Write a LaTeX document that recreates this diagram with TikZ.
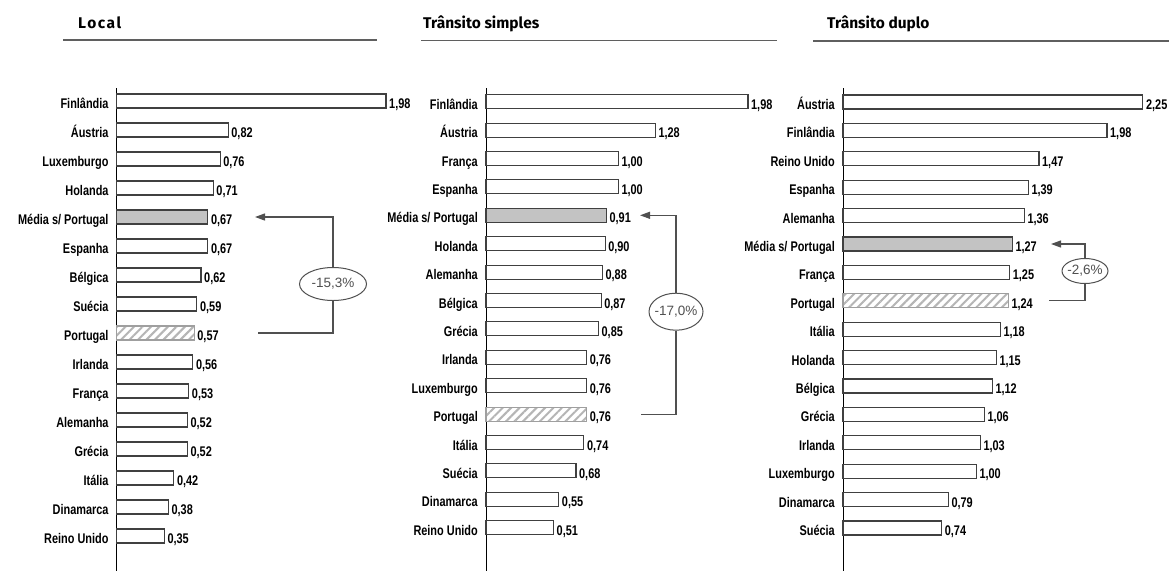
\documentclass[tikz,border=0pt]{standalone}
\usepackage{fontspec}
\usetikzlibrary{calc,shapes.geometric,arrows.meta,patterns.meta}
\newfontfamily\lblfont[FakeStretch=0.78]{Liberation Sans}
\newfontfamily\hdrfont{Fira Sans}
\newfontfamily\hdrfontsp[LetterSpace=10]{Fira Sans}
\newfontfamily\pctfont{Liberation Sans}
\definecolor{barline}{HTML}{404040}
\definecolor{mediafill}{HTML}{C3C3C3}
\definecolor{hatchc}{HTML}{B5B5B5}
\definecolor{connc}{HTML}{505050}
\definecolor{rulec}{HTML}{5F5F5F}
\tikzset{
 barbase/.style={draw=barline, line width=1.1pt, minimum height=14pt, inner sep=0pt, outer sep=0pt, anchor=west},
 barn/.style={fill=white},
 barm/.style={fill=mediafill},
 barp/.style={draw=gray!75, pattern={Lines[angle=45,distance=6pt,line width=2pt]}, pattern color=hatchc},
 lbl/.style={font=\lblfont\bfseries\fontsize{14}{16}\selectfont, inner sep=0pt, anchor=base east},
 val/.style={font=\lblfont\bfseries\fontsize{14}{16}\selectfont, inner sep=0pt, anchor=base west},
 hdr/.style={font=\hdrfont\bfseries\fontsize{15.5}{18}\selectfont, inner sep=0pt, anchor=base west},
 pct/.style={ellipse, draw=connc, line width=1pt, inner sep=0pt},
 pcttext/.style={font=\pctfont\fontsize{13.5}{15}\selectfont, text=connc, inner sep=0pt},
 link/.style={draw=connc, line width=1.2pt},
 axisline/.style={draw=black, line width=1pt},
 hrule/.style={draw=rulec, line width=1.6pt},
}
\newcommand\drawpanel[6]{%
 \foreach \nm/\ip/\fp/\ty [count=\idx from 0] in {#6} {
   \pgfmathsetmacro\yy{#4+#5*\idx}
   \pgfmathsetmacro\ww{\ip.\fp*#3}
   \node[barbase, bar\ty, minimum width=\ww pt] (b#1-\idx) at (#2,\yy) {};
   \node[lbl] (l#1-\idx) at ($(#2,\yy)+(-8,7.5)$) {\nm};
   \node[val] (v#1-\idx) at ($(b#1-\idx.east)+(3,7.5)$) {\ip,\fp};
 }}
\begin{document}
\begin{tikzpicture}[x=1pt,y=-1pt]
\useasboundingbox[fill=white] (0,0) rectangle (1169,571);
% headers
\node[hdr, font=\hdrfontsp\bfseries\fontsize{15.5}{18}\selectfont] (h1) at (78,28) {Local};
\node[hdr] (h2) at (423,28) {Trânsito simples};
\node[hdr] (h3) at (827,28) {Trânsito duplo};
\draw[hrule] (63,40) -- (377,40);
\draw[hrule] (421,40.5) -- (777,40.5);
\draw[hrule] (813,41) -- (1169,41);
% axes
\draw[axisline] (116.7,88) -- (116.7,571);
\draw[axisline] (486,88) -- (486,571);
\draw[axisline] (843,88) -- (843,571);
% panel 1
\drawpanel{1}{116.7}{136}{101}{29}{Finlândia/1/98/n, Áustria/0/82/n, Luxemburgo/0/76/n, Holanda/0/71/n, {Média s/ Portugal}/0/67/m, Espanha/0/67/n, Bélgica/0/62/n, Suécia/0/59/n, Portugal/0/57/p, Irlanda/0/56/n, França/0/53/n, Alemanha/0/52/n, Grécia/0/52/n, Itália/0/42/n, Dinamarca/0/38/n, Reino Unido/0/35/n}
% panel 2
\drawpanel{2}{486}{132.3}{101.7}{28.4}{Finlândia/1/98/n, Áustria/1/28/n, França/1/00/n, Espanha/1/00/n, {Média s/ Portugal}/0/91/m, Holanda/0/90/n, Alemanha/0/88/n, Bélgica/0/87/n, Grécia/0/85/n, Irlanda/0/76/n, Luxemburgo/0/76/n, Portugal/0/76/p, Itália/0/74/n, Suécia/0/68/n, Dinamarca/0/55/n, Reino Unido/0/51/n}
% panel 3
\drawpanel{3}{843}{133.3}{102}{28.4}{Áustria/2/25/n, Finlândia/1/98/n, Reino Unido/1/47/n, Espanha/1/39/n, Alemanha/1/36/n, {Média s/ Portugal}/1/27/m, França/1/25/n, Portugal/1/24/p, Itália/1/18/n, Holanda/1/15/n, Bélgica/1/12/n, Grécia/1/06/n, Irlanda/1/03/n, Luxemburgo/1/00/n, Dinamarca/0/79/n, Suécia/0/74/n}
% annotations
\coordinate (t1) at (255,217);
\coordinate (s1) at (258,333);
\node[pct, minimum width=67pt, minimum height=33pt] (e1) at (333,284) {};
\node[pcttext] (e1t) at (e1) {-15,3\%};
\draw[link, -{Triangle[length=10pt,width=7pt]}] (e1.north) |- (t1);
\draw[link] (e1.south) |- (s1);
\coordinate (t2) at (640,215.3);
\coordinate (s2) at (641,414.1);
\node[pct, minimum width=54pt, minimum height=37pt] (e2) at (676,311.7) {};
\node[pcttext] (e2t) at (e2) {-17,0\%};
\draw[link, -{Triangle[length=10pt,width=7pt]}] (e2.north) |- (t2);
\draw[link] (e2.south) |- (s2);
\coordinate (t3) at (1051,244);
\coordinate (s3) at (1049,300.8);
\node[pct, minimum width=46pt, minimum height=25pt] (e3) at (1085,271) {};
\node[pcttext] (e3t) at (e3) {-2,6\%};
\draw[link, -{Triangle[length=10pt,width=7pt]}] (e3.north) |- (t3);
\draw[link] (e3.south) |- (s3);
\end{tikzpicture}
\end{document}
